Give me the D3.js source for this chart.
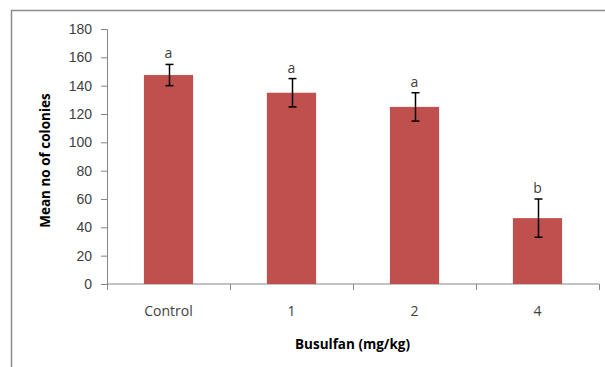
<!DOCTYPE html>
<html>
<head>
<meta charset="utf-8">
<script src="https://d3js.org/d3.v7.min.js"></script>
<style>
  body { margin: 0; background: #fff; }
  svg { display: block; font-family: "Open Sans", "Liberation Sans", sans-serif; }
</style>
</head>
<body>
<div id="chart"></div>
<script>
// data
var doses = ["Control", "1", "2", "4"];
var means = [147.5, 135, 125, 46.5];
var errors = [7.5, 10, 10, 13.5];
var letters = ["a", "a", "a", "b"];
var yTicks = [0, 20, 40, 60, 80, 100, 120, 140, 160, 180];

var W = 605, H = 367;
var margin = {top: 29, right: 6, bottom: 83, left: 107},
    width = W - margin.left - margin.right,
    height = H - margin.top - margin.bottom;

var root = d3.select("#chart")
  .append("svg")
    .attr("width", W)
    .attr("height", H);

// outer chart frame (only top and left show in the crop)
root.append("path")
    .attr("d", "M11.5," + H + "V10.5H" + W)
    .attr("fill", "none")
    .attr("stroke", "#8c8c8c")
    .attr("stroke-width", 1.5);

var svg = root.append("g")
    .attr("transform", "translate(" + margin.left + "," + margin.top + ")");

var x = d3.scaleBand()
    .domain(doses)
    .range([0, width])
    .paddingInner(0.6)
    .paddingOuter(0.3);

var y = d3.scaleLinear()
    .domain([0, 180])
    .range([height, 0]);

// y axis
var yAxis = svg.append("g")
    .call(d3.axisLeft(y).tickValues(yTicks).tickSize(6).tickPadding(9));
yAxis.select(".domain").attr("stroke", "#868686");
yAxis.selectAll(".tick line").attr("stroke", "#868686");
yAxis.selectAll("text").attr("fill", "#404040").style("font-size", "14px");

// x axis with ticks between categories
var xAxis = svg.append("g")
    .attr("transform", "translate(0," + height + ")");
xAxis.append("line")
    .attr("x1", 0).attr("x2", width)
    .attr("stroke", "#868686");
var step = width / doses.length;
xAxis.selectAll(".sep")
  .data(d3.range(doses.length + 1))
  .enter()
  .append("line")
    .attr("x1", function(d){ return Math.round(d * step) + 0.5; })
    .attr("x2", function(d){ return Math.round(d * step) + 0.5; })
    .attr("y1", 0).attr("y2", 6)
    .attr("stroke", "#868686");
xAxis.selectAll(".lab")
  .data(doses)
  .enter()
  .append("text")
    .attr("x", function(d){ return x(d) + x.bandwidth() / 2; })
    .attr("y", 32)
    .attr("text-anchor", "middle")
    .attr("fill", "#404040")
    .style("font-size", "14px")
    .text(function(d){ return d; });

// bars
svg.selectAll(".bar")
  .data(doses)
  .enter()
  .append("rect")
    .attr("x", function(d){ return x(d); })
    .attr("y", function(d, i){ return y(means[i]); })
    .attr("width", x.bandwidth())
    .attr("height", function(d, i){ return height - y(means[i]); })
    .attr("fill", "#c0504d");

// error bars
var eb = svg.selectAll(".err")
  .data(doses)
  .enter()
  .append("g")
    .attr("transform", function(d){ return "translate(" + (Math.round(x(d) + x.bandwidth() / 2) + 0.5) + ",0)"; })
    .attr("stroke", "#000")
    .attr("stroke-width", 1.5);
eb.append("line")
    .attr("y1", function(d, i){ return y(means[i] + errors[i]); })
    .attr("y2", function(d, i){ return y(means[i] - errors[i]); });
eb.append("line")
    .attr("x1", -4).attr("x2", 4)
    .attr("y1", function(d, i){ return y(means[i] + errors[i]); })
    .attr("y2", function(d, i){ return y(means[i] + errors[i]); });
eb.append("line")
    .attr("x1", -4).attr("x2", 4)
    .attr("y1", function(d, i){ return y(means[i] - errors[i]); })
    .attr("y2", function(d, i){ return y(means[i] - errors[i]); });

// significance letters
svg.selectAll(".letter")
  .data(doses)
  .enter()
  .append("text")
    .attr("x", function(d){ return x(d) + x.bandwidth() / 2; })
    .attr("y", function(d, i){ return y(means[i] + errors[i]) - 6; })
    .attr("text-anchor", "middle")
    .attr("fill", "#404040")
    .style("font-size", "14px")
    .text(function(d, i){ return letters[i]; });

// axis titles
svg.append("text")
    .attr("x", width / 2 - 0.5)
    .attr("y", height + 65)
    .attr("text-anchor", "middle")
    .attr("fill", "#000")
    .style("font-size", "13.5px")
    .style("font-weight", "bold")
    .text("Busulfan (mg/kg)");

svg.append("text")
    .attr("transform", "translate(" + (-57) + "," + (height / 2 + 4) + ") rotate(-90)")
    .attr("text-anchor", "middle")
    .attr("fill", "#000")
    .style("font-size", "13.5px")
    .style("font-weight", "bold")
    .text("Mean no of colonies");
</script>
</body>
</html>
